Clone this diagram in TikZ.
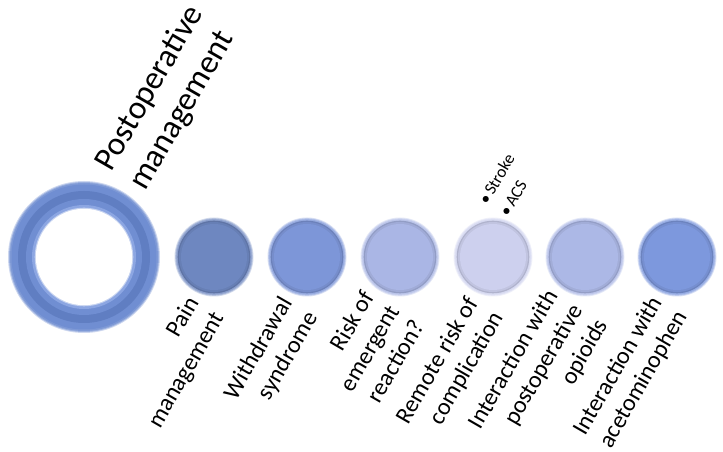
\documentclass[tikz,border=0pt]{standalone}
\usepackage{fontspec}
\setmainfont{Carlito}
\definecolor{ringlight}{RGB}{140,166,226}
\definecolor{ringblue}{RGB}{112,142,210}
\definecolor{ringdark}{RGB}{96,126,194}
\definecolor{paincol}{RGB}{110,135,192}
\definecolor{withdrawcol}{RGB}{125,150,216}
\definecolor{riskcol}{RGB}{170,182,229}
\definecolor{remotecol}{RGB}{205,208,238}
\definecolor{opioidcol}{RGB}{172,184,230}
\definecolor{acetocol}{RGB}{125,152,221}
\begin{document}
\begin{tikzpicture}[x=1pt, y=1pt,
  disc/.style={circle, inner sep=0pt, minimum size=78pt},
  itemtext/.style={rotate=60, anchor=east, align=right, inner sep=0pt, font=\fontsize{24}{29}\selectfont}]
  \useasboundingbox (0,0) rectangle (723,452);

  % ring
  \node (hub) at (84,195) [circle, inner sep=0pt, minimum size=152pt] {};
  \foreach \r/\c in {76/ringblue!35!white, 75/ringblue!70!white, 74/ringblue!90!white, 72.5/ringblue, 66/ringdark, 58/ringblue, 52/ringlight, 49.3/ringlight!50!white, 48.2/white}
    \fill[\c] (hub) circle (\r);
  \node (hubtext) at (121,274) [rotate=60, anchor=west, align=left, inner sep=0pt, font=\fontsize{33}{39}\selectfont] {Postoperative\\management};

  \node (pain) at (214,195) [disc] {};
  \node (withdraw) at (307,195) [disc] {};
  \node (risk) at (400,195) [disc] {};
  \node (remote) at (493,195) [disc] {};
  \node (opioid) at (585,195) [disc] {};
  \node (aceto) at (677,195) [disc] {};

  % shaded discs
  \foreach \n/\c in {pain/paincol, withdraw/withdrawcol, risk/riskcol, remote/remotecol, opioid/opioidcol, aceto/acetocol} {
    \fill[\c!30!white] (\n) circle (39.5);
    \fill[\c!60!white] (\n) circle (38.6);
    \fill[\c!80!white] (\n) circle (37.6);
    \fill[\c!86!black] (\n) circle (36.3);
    \fill[\c!94!black] (\n) circle (35);
    \fill[\c] (\n) circle (33);
  }

  \node (paintext) at (207,145) [itemtext] {Pain\\management};
  \node (withdrawtext) at (300,145) [itemtext] {Withdrawal\\syndrome};
  \node (risktext) at (393,145) [itemtext] {Risk of\\emergent\\reaction?};
  \node (remotetext) at (486,145) [itemtext] {Remote risk of\\complication};
  \node (opioidtext) at (578,145) [itemtext] {Interaction with\\postoperative\\opioids};
  \node (acetotext) at (670,146) [itemtext] {Interaction with\\acetominophen};

  \node (remotelist) at (493,243) [rotate=60, anchor=west, align=left, inner sep=0pt, font=\fontsize{17}{24}\selectfont] {•\,Stroke\\•\,ACS};
\end{tikzpicture}
\end{document}
